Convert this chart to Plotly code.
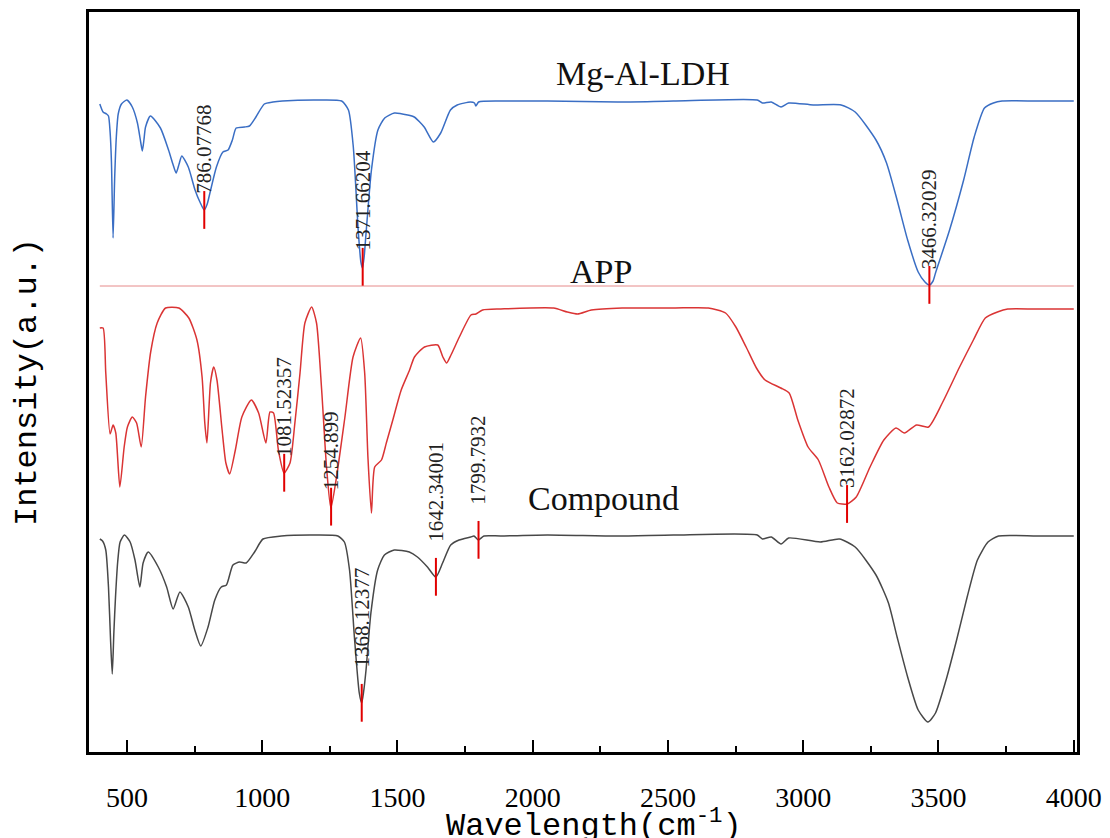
import numpy as np
import plotly.graph_objects as go

# ---------------- data ----------------
ldh_wn = [400, 412, 425, 432, 438, 443, 449, 455, 461, 468, 480, 500, 520, 539, 551, 557, 563, 569, 587,
          624, 654, 670, 682, 693, 703, 727, 752, 770, 786, 797, 807, 831, 855, 874, 890, 904, 935, 953,
          977, 1008, 1040, 1075, 1197, 1294, 1319, 1337, 1355, 1365, 1371, 1377, 1385, 1404, 1428, 1453,
          1489, 1538, 1562, 1599, 1633, 1660, 1696, 1721, 1770, 1785, 1790, 1800, 1879, 2054, 2313, 2520,
          2830, 2849, 2882, 2918, 2946, 3037, 3140, 3192, 3269, 3308, 3347, 3386, 3425, 3450, 3466, 3480,
          3489, 3541, 3593, 3632, 3670, 3703, 3735, 3864, 4000]
ldh_int = [648, 640, 638, 636, 620, 590, 514, 575, 615, 638, 648, 652, 645, 629, 610, 601, 612, 625, 636,
           624, 602, 588, 579, 588, 596, 585, 562, 550, 542, 548, 559, 585, 600, 602, 612, 624, 625, 626,
           635, 648, 650, 651, 652, 651, 642, 605, 522, 490, 484, 495, 522, 582, 622, 634,
           639, 637, 635, 625, 610, 619, 642, 647, 650, 649, 646, 650, 651, 651, 650, 651,
           652, 649, 650, 645, 649, 647, 647, 640, 612, 589, 552, 512, 480, 470, 467, 471,
           479, 522, 572, 615, 644, 649, 651, 651, 651]

app_wn = [400, 412, 422, 438, 449, 459, 474, 490, 502, 520, 536, 553, 569, 588, 612, 643, 692, 729, 759,
          778, 788, 796, 809, 821, 833, 852, 866, 880, 901, 925, 960, 987, 1014, 1029, 1042, 1060, 1081,
          1103, 1121, 1140, 1158, 1183, 1201, 1220, 1238, 1254, 1275, 1306, 1336, 1364, 1379, 1391, 1404,
          1416, 1441, 1459, 1483, 1514, 1545, 1563, 1600, 1649, 1668, 1682, 1698, 1729, 1772, 1790, 1815,
          1882, 2077, 2128, 2166, 2217, 2331, 2522, 2649, 2713, 2751, 2789, 2827, 2859, 2917, 2948, 2980,
          3018, 3056, 3095, 3126, 3162, 3196, 3247, 3298, 3343, 3374, 3419, 3463, 3514, 3578, 3629, 3673,
          3718, 3756, 3858, 4000]
app_int = [424, 424, 379, 318, 327, 319, 265, 305, 325, 335, 329, 305, 355, 400, 429, 444, 444, 434, 412,
           375, 329, 309, 369, 385, 372, 322, 289, 278, 302, 335, 352, 339, 309, 340, 339, 302, 279,
           289, 329, 379, 429, 445, 429, 362, 285, 244, 275, 335, 395, 414, 379, 295, 239,
           285, 292, 309, 332, 362, 382, 395, 405, 407, 395, 389, 397, 415, 437, 438, 442,
           443, 444, 440, 438, 442, 444, 444, 444, 439, 425, 405, 384, 372, 364, 359, 332,
           305, 292, 265, 249, 248, 255, 285, 312, 324, 319, 327, 325, 349, 385, 412, 434,
           440, 443, 443, 443]

cmp_wn = [400, 410, 422, 432, 440, 446, 452, 458, 466, 475, 491, 512, 530, 548, 560, 579, 616, 647, 671,
          696, 727, 751, 773, 800, 825, 849, 868, 892, 917, 941, 972, 1003, 1071, 1193, 1280, 1304, 1323,
          1341, 1359, 1368, 1375, 1384, 1402, 1427, 1452, 1488, 1544, 1574, 1611, 1642, 1667, 1697, 1728,
          1771, 1783, 1799, 1820, 1882, 2054, 2313, 2520, 2830, 2849, 2882, 2918, 2946, 3063, 3134, 3192,
          3269, 3315, 3347, 3386, 3425, 3461, 3489, 3528, 3567, 3606, 3644, 3683, 3722, 3864, 4000]
cmp_int = [213, 211, 202, 165, 110, 78, 120, 155, 190, 210, 217, 210, 192, 165, 189, 200, 185, 165, 143,
           160, 145, 122, 106, 125, 152, 165, 167, 187, 190, 189, 200, 213, 216, 217, 216, 210, 182,
           115, 59, 49, 60, 82, 139, 182, 197, 202, 200, 195, 185, 175, 189, 207, 212,
           215, 216, 212, 216, 216, 217, 216, 217, 217, 213, 215, 208, 214, 210, 213, 205,
           177, 149, 115, 75, 42, 30, 39, 72, 112, 155, 192, 210, 216, 216, 216]

# thin reference line drawn across the APP panel
app_line_wn = [400, 4000]
app_line_int = [466, 466]

ldh_peaks = [786.07768, 1371.66204, 3466.32029]
app_peaks = [1081.52357, 1254.899, 3162.02872]
cmp_peaks = [1368.12377, 1642.34001, 1799.7932]

series_names = ["Mg-Al-LDH", "APP", "Compound"]
x_ticks = [500, 1000, 1500, 2000, 2500, 3000, 3500, 4000]

# ---------------- styles ----------------
BLUE = "rgb(58,110,196)"
RED = "rgb(218,52,52)"
GRAY = "rgb(72,72,72)"
MARK = "rgb(225,0,0)"
SERIF = "Liberation Serif"
MONO = "Liberation Mono"

fig = go.Figure()

fig.add_trace(go.Scatter(x=app_line_wn, y=app_line_int, mode="lines",
                         line=dict(color="rgba(220,90,90,0.7)", width=1), hoverinfo="skip"))
for wn, inten, col, name in [(ldh_wn, ldh_int, BLUE, series_names[0]),
                             (app_wn, app_int, RED, series_names[1]),
                             (cmp_wn, cmp_int, GRAY, series_names[2])]:
    fig.add_trace(go.Scatter(x=wn, y=inten, mode="lines", name=name,
                             line=dict(color=col, width=1.5, shape="spline", smoothing=0.6)))

annotations = []
label_gap = {0: 14, 1: 14, 2: 33}
for k, (peaks, wn, inten) in enumerate([(ldh_peaks, ldh_wn, ldh_int),
                                        (app_peaks, app_wn, app_int),
                                        (cmp_peaks, cmp_wn, cmp_int)]):
    py = np.interp(peaks, wn, inten)
    fig.add_trace(go.Scatter(x=peaks, y=py, mode="markers", hoverinfo="skip",
                             marker=dict(symbol="line-ns", size=27,
                                         line=dict(color=MARK, width=2))))
    for p, yv in zip(peaks, py):
        annotations.append(dict(x=p, y=yv, text=str(p), textangle=-90, showarrow=False,
                                xanchor="center", yanchor="bottom", yshift=label_gap[k],
                                font=dict(family=SERIF, size=21, color="#222222")))

# curve names
name_pos = [(2407, 679), (2254, 481), (2261, 254)]
for nm, (xx, yy) in zip(series_names, name_pos):
    annotations.append(dict(x=xx, y=yy, text=nm, showarrow=False, xanchor="center", yanchor="middle",
                            font=dict(family=SERIF, size=34, color="#111111")))

# x-axis title (placed as a paper annotation for exact position)
annotations.append(dict(x=0.511, xref="paper", y=-0.097, yref="paper", showarrow=False,
                        xanchor="center", yanchor="middle",
                        text="Wavelength(cm<sup>-1</sup>)",
                        font=dict(family=MONO, size=32, color="black")))

fig.update_layout(
    width=1110, height=838,
    margin=dict(l=89, r=8, t=12, b=86),
    paper_bgcolor="white", plot_bgcolor="white",
    showlegend=False,
    annotations=annotations,
)
fig.update_xaxes(
    range=[360, 4012], tickvals=x_ticks, ticktext=[str(t) for t in x_ticks],
    ticks="inside", ticklen=12, tickwidth=2, tickcolor="black",
    minor=dict(dtick=250, tick0=250, ticks="inside", ticklen=6, tickwidth=2, tickcolor="black"),
    showline=True, linewidth=3, linecolor="black", mirror=True,
    showgrid=False, zeroline=False,
    tickfont=dict(family=SERIF, size=28, color="black"),
    ticklabelstandoff=18, ticklabeloverflow="allow",
)
fig.update_yaxes(
    range=[0, 740], showticklabels=False, ticks="",
    showline=True, linewidth=3, linecolor="black", mirror=True,
    showgrid=False, zeroline=False,
    title=dict(text="Intensity(a.u.)", font=dict(family=MONO, size=32, color="black"), standoff=40),
)

fig.write_html("out.html",
               config={"displayModeBar": False, "responsive": False},
               post_script="document.body.style.margin='0';document.body.style.overflow='hidden';")
